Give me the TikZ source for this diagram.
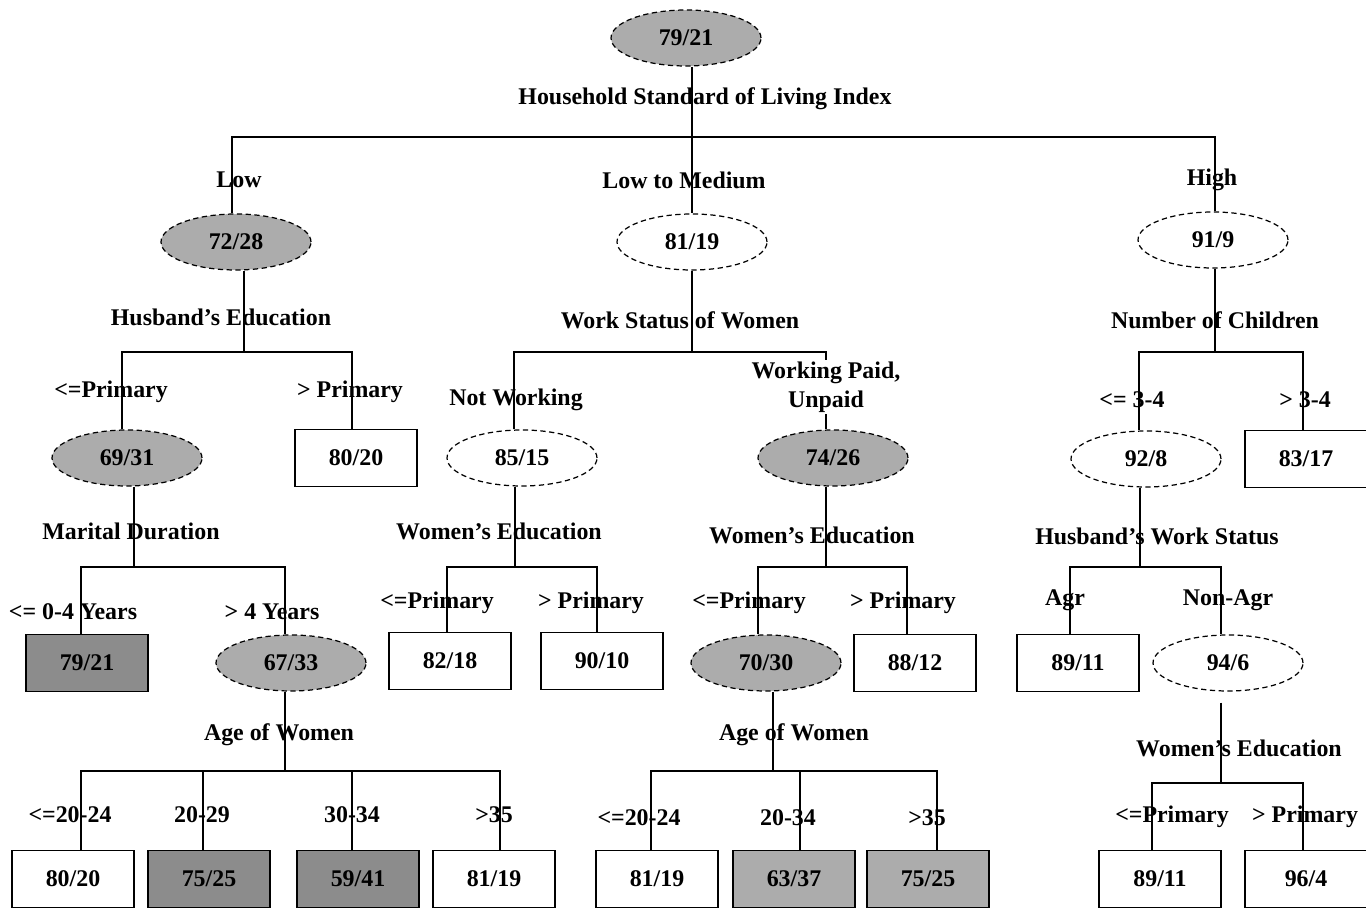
\documentclass[tikz,border=0pt]{standalone}
\usepackage{fontspec}
\setmainfont{Liberation Serif}
\usetikzlibrary{shapes.geometric}
\definecolor{nodegray}{RGB}{172,172,172}
\definecolor{leafgray}{RGB}{140,140,140}

\begin{document}
\begin{tikzpicture}[x=0.02cm,y=-0.02cm,
        lbl/.style={font=\fontsize{13.6}{16.5}\selectfont\bfseries,inner sep=1pt},
        ell/.style={ellipse,draw,densely dashed,line width=0.7pt,minimum width=3cm,minimum height=1.12cm,font=\fontsize{13.6}{16}\selectfont\bfseries},
        leaf/.style={rectangle,draw,line width=1pt,minimum width=2.44cm,minimum height=1.14cm,font=\fontsize{13.6}{16}\selectfont\bfseries},
        edge/.style={line width=1pt}]
        \useasboundingbox (0,0) rectangle (1366,908);

        % level 0
        \node[ell,fill=nodegray] (root) at (686,38) {79/21};
        \node[lbl] (hsli) at (705,99) {Household Standard of Living Index};

        % level 1
        \node[lbl] (lowl) at (239,180) {Low};
        \node[lbl] (medl) at (684,180) {Low to Medium};
        \node[lbl] (highl) at (1212,180) {High};
        \node[ell,fill=nodegray] (low) at (236,242) {72/28};
        \node[ell,fill=white] (lowmed) at (692,242) {81/19};
        \node[ell,fill=white] (high) at (1213,240) {91/9};
        \node[lbl] (hedu) at (221,317) {Husband's Education};
        \node[lbl] (wstat) at (680,320) {Work Status of Women};
        \node[lbl] (nchild) at (1215,320) {Number of Children};

        % level 2
        \node[lbl] (hpril) at (111,392) {<=Primary};
        \node[lbl] (hsecl) at (350,392) {> Primary};
        \node[lbl] (notwl) at (516,400) {Not Working};
        \node[lbl] (fewl) at (1132,400) {<= 3-4};
        \node[lbl] (manyl) at (1305,400) {> 3-4};
        \node[ell,fill=nodegray] (hpri) at (127,458) {69/31};
        \node[leaf,fill=white] (hsec) at (356,458) {80/20};
        \node[ell,fill=white] (notw) at (522,458) {85/15};
        \node[ell,fill=nodegray] (work) at (833,458) {74/26};
        \node[ell,fill=white] (few) at (1146,459) {92/8};
        \node[leaf,fill=white] (many) at (1306,459) {83/17};
        \node[lbl] (mdur) at (131,531) {Marital Duration};
        \node[lbl] (nwedu) at (499,531) {Women's Education};
        \node[lbl] (wkedu) at (812,535) {Women's Education};
        \node[lbl] (hwork) at (1157,536) {Husband's Work Status};

        % level 3
        \node[lbl] (shortl) at (73,612) {<= 0-4 Years};
        \node[lbl] (longl) at (272,612) {> 4 Years};
        \node[lbl] (ne1l) at (437,603) {<=Primary};
        \node[lbl] (ne2l) at (591,603) {> Primary};
        \node[lbl] (we1l) at (749,603) {<=Primary};
        \node[lbl] (we2l) at (903,603) {> Primary};
        \node[lbl] (agrl) at (1065,600) {Agr};
        \node[lbl] (nonagrl) at (1228,600) {Non-Agr};
        \node[leaf,fill=leafgray] (mshort) at (87,663) {79/21};
        \node[ell,fill=nodegray] (mlong) at (291,663) {67/33};
        \node[leaf,fill=white] (ne1) at (450,661) {82/18};
        \node[leaf,fill=white] (ne2) at (602,661) {90/10};
        \node[ell,fill=nodegray] (we1) at (766,663) {70/30};
        \node[leaf,fill=white] (we2) at (915,663) {88/12};
        \node[leaf,fill=white] (agr) at (1078,663) {89/11};
        \node[ell,fill=white] (nonagr) at (1228,663) {94/6};
        \node[lbl] (mage) at (279,735) {Age of Women};
        \node[lbl] (wage) at (794,735) {Age of Women};
        \node[lbl] (naedu) at (1239,748) {Women's Education};

        % level 4
        \node[lbl] (a1l) at (70,815) {<=20-24};
        \node[lbl] (a2l) at (202,815) {20-29};
        \node[lbl] (a3l) at (352,815) {30-34};
        \node[lbl] (a4l) at (494,815) {>35};
        \node[lbl] (wa1l) at (639,818) {<=20-24};
        \node[lbl] (wa2l) at (788,818) {20-34};
        \node[lbl] (wa3l) at (927,818) {>35};
        \node[lbl] (ge1l) at (1172,817) {<=Primary};
        \node[lbl] (ge2l) at (1305,817) {> Primary};
        \node[leaf,fill=white] (a1) at (73,879) {80/20};
        \node[leaf,fill=leafgray] (a2) at (209,879) {75/25};
        \node[leaf,fill=leafgray] (a3) at (358,879) {59/41};
        \node[leaf,fill=white] (a4) at (494,879) {81/19};
        \node[leaf,fill=white] (wa1) at (657,879) {81/19};
        \node[leaf,fill=nodegray] (wa2) at (794,879) {63/37};
        \node[leaf,fill=nodegray] (wa3) at (928,879) {75/25};
        \node[leaf,fill=white] (ge1) at (1160,879) {89/11};
        \node[leaf,fill=white] (ge2) at (1306,879) {96/4};

        % junctions
        \coordinate (s0) at (692,137);
        \coordinate (s1) at (244,352);
        \coordinate (s2) at (692,352);
        \coordinate (s3) at (1215,352);
        \coordinate (s4) at (134,567);
        \coordinate (s5) at (515,567);
        \coordinate (s6) at (826,567);
        \coordinate (s7) at (1140,567);
        \coordinate (s8) at (285,771);
        \coordinate (s9) at (773,771);
        \coordinate (s10) at (1221,783);

        \draw[edge] (s0 |- root.south) -- (s0);
        \draw[edge] ([xshift=-0.08cm]low.north) |- (s0) -| ([xshift=0.04cm]high.north);
        \draw[edge] (s0) -- (lowmed.north);
        \draw[edge] (s1 |- low.south) -- (s1);
        \draw[edge] ([xshift=-0.1cm]hpri.north) |- (s1) -| ([xshift=-0.08cm]hsec.north);
        \draw[edge] (s2 |- lowmed.south) -- (s2);
        \draw[edge] ([xshift=-0.16cm]notw.north) |- (s2) -| ([xshift=-0.14cm]work.north);
        \draw[edge] (s3 |- high.south) -- (s3);
        \draw[edge] ([xshift=-0.14cm]few.north) |- (s3) -| ([xshift=-0.06cm]many.north);
        \draw[edge] (s4 |- hpri.south) -- (s4);
        \draw[edge] ([xshift=-0.12cm]mshort.north) |- (s4) -| ([xshift=-0.12cm]mlong.north);
        \draw[edge] (s5 |- notw.south) -- (s5);
        \draw[edge] ([xshift=-0.06cm]ne1.north) |- (s5) -| ([xshift=-0.1cm]ne2.north);
        \draw[edge] (s6 |- work.south) -- (s6);
        \draw[edge] ([xshift=-0.16cm]we1.north) |- (s6) -| ([xshift=-0.16cm]we2.north);
        \draw[edge] (s7 |- few.south) -- (s7);
        \draw[edge] ([xshift=-0.16cm]agr.north) |- (s7) -| ([xshift=-0.14cm]nonagr.north);
        \draw[edge] (s8 |- mlong.south) -- (s8);
        \draw[edge] ([xshift=0.16cm]a1.north) |- (s8) -| ([xshift=0.12cm]a4.north);
        \draw[edge] ([xshift=-0.12cm]a2.north) |- (s8);
        \draw[edge] ([xshift=-0.12cm]a3.north) |- (s8);
        \draw[edge] (s9 |- we1.south) -- (s9);
        \draw[edge] ([xshift=-0.12cm]wa1.north) |- (s9) -| ([xshift=0.18cm]wa3.north);
        \draw[edge] ([xshift=0.12cm]wa2.north) |- (s9);
        \draw[edge,shorten <=0.22cm] (s10 |- nonagr.south) -- (s10);
        \draw[edge] ([xshift=-0.16cm]ge1.north) |- (s10) -| ([xshift=-0.06cm]ge2.north);

        % label with gap in its line
        \node[lbl,fill=white,align=center] (workl) at (826,387) {Working Paid,\\Unpaid};
    \end{tikzpicture}
\end{document}
